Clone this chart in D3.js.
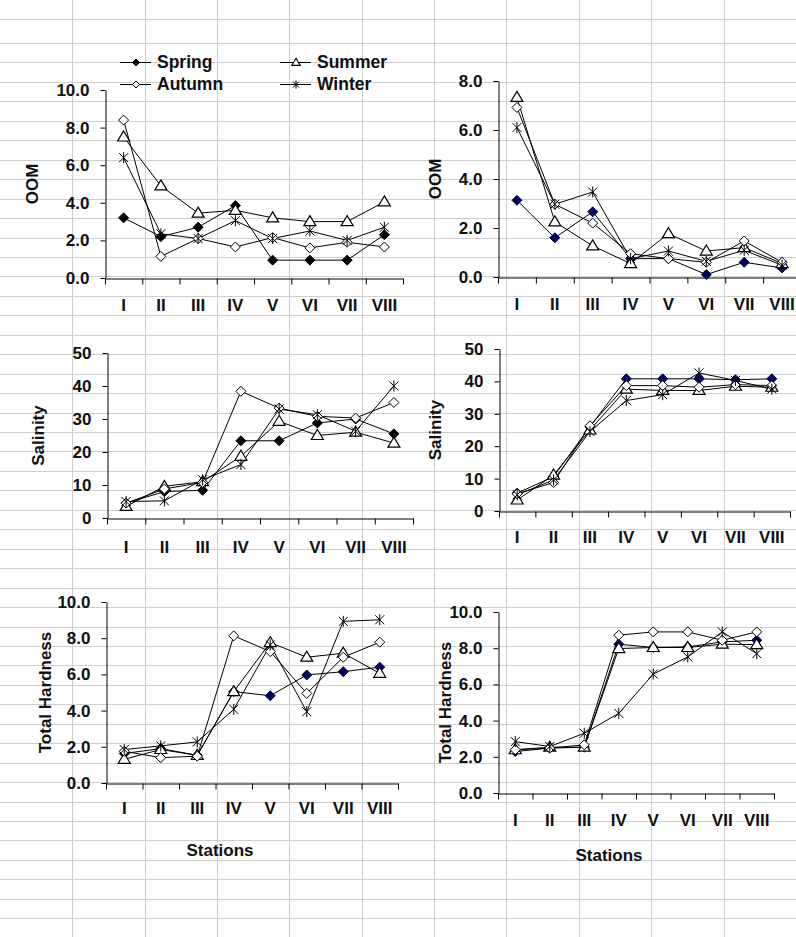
<!DOCTYPE html>
<html>
<head>
<meta charset="utf-8">
<script src="https://cdn.jsdelivr.net/npm/d3@7"></script>
<style>
  html, body { margin: 0; padding: 0; background: #fff; }
  svg { display: block; }
  text { font-family: "Liberation Sans", Arial, sans-serif; font-weight: bold; fill: #111; }
</style>
</head>
<body>
<svg id="chart" width="796" height="937"></svg>
<script>
// ---------------- DATA ----------------
const stations = ["I", "II", "III", "IV", "V", "VI", "VII", "VIII"];
const seasons = ["Spring", "Summer", "Autumn", "Winter"];

// Top-left: OOM
const oomA_spring = [3.2, 2.2, 2.7, 3.85, 0.95, 0.95, 0.95, 2.3];
const oomA_summer = [7.5, 4.9, 3.45, 3.6, 3.2, 3.0, 3.0, 4.05];
const oomA_autumn = [8.4, 1.15, 2.1, 1.65, 2.15, 1.6, 1.9, 1.65];
const oomA_winter = [6.4, 2.35, 2.1, 3.05, 2.1, 2.5, 2.0, 2.7];

// Top-right: OOM
const oomB_spring = [3.13, 1.6, 2.66, 0.75, 0.75, 0.1, 0.6, 0.37];
const oomB_summer = [7.33, 2.25, 1.27, 0.55, 1.77, 1.06, 1.2, 0.55];
const oomB_autumn = [6.92, 2.97, 2.2, 0.95, 0.75, 0.6, 1.47, 0.6];
const oomB_winter = [6.1, 2.97, 3.47, 0.75, 1.06, 0.64, 1.09, 0.48];

// Middle-left: Salinity
const salA_spring = [4.5, 8.0, 8.4, 23.4, 23.4, 28.8, 30.0, 25.5];
const salA_summer = [3.5, 9.6, 11.0, 18.7, 29.3, 25.0, 26.0, 22.7];
const salA_autumn = [4.5, 8.8, 10.8, 38.4, 33.3, 30.8, 30.3, 35.0];
const salA_winter = [5.0, 5.2, 11.6, 16.2, 33.0, 31.3, 26.3, 40.0];

// Middle-right: Salinity
const salB_spring = [5.5, 10.6, 26.0, 40.8, 40.8, 40.8, 40.5, 40.8];
const salB_summer = [3.4, 11.1, 25.0, 37.6, 37.2, 37.2, 38.5, 38.2];
const salB_autumn = [5.3, 8.8, 26.3, 38.7, 38.7, 38.2, 39.0, 38.7];
const salB_winter = [5.0, 9.6, 24.5, 34.1, 35.9, 42.6, 40.3, 37.6];

// Bottom-left: Total Hardness
const thA_spring = [1.63, 1.9, 1.53, 5.05, 4.82, 5.97, 6.15, 6.4];
const thA_summer = [1.31, 1.85, 1.53, 5.05, 7.76, 6.95, 7.17, 6.06];
const thA_autumn = [1.75, 1.4, 1.48, 8.13, 7.26, 4.95, 6.95, 7.78];
const thA_winter = [1.85, 2.05, 2.27, 4.07, 7.63, 3.94, 8.93, 9.02];

// Bottom-right: Total Hardness
const thB_spring = [2.29, 2.48, 2.53, 8.22, 8.04, 8.07, 8.35, 8.44];
const thB_summer = [2.39, 2.53, 2.53, 7.98, 8.04, 8.04, 8.22, 8.2];
const thB_autumn = [2.39, 2.48, 2.66, 8.72, 8.9, 8.9, 8.44, 8.9];
const thB_winter = [2.84, 2.57, 3.3, 4.4, 6.57, 7.52, 8.9, 7.7];

const yTitles = ["OOM", "OOM", "Salinity", "Salinity", "Total Hardness", "Total Hardness"];
const yMax = [10, 8, 50, 50, 10, 10];
const xTitle = "Stations";

// ---------------- LAYOUT ----------------
const panels = [
  { series: [oomA_spring, oomA_summer, oomA_autumn, oomA_winter], x0: 105, x1: 403, yTop: 90, yBot: 278, lab: 305, tx: 32, fmt: ".1f", springFill: "#000" },
  { series: [oomB_spring, oomB_summer, oomB_autumn, oomB_winter], x0: 498, x1: 801, yTop: 81, yBot: 277, lab: 304, tx: 435, fmt: ".1f", springFill: "#000055" },
  { series: [salA_spring, salA_summer, salA_autumn, salA_winter], x0: 107, x1: 413, yTop: 353, yBot: 518, lab: 547, tx: 38, fmt: "d", springFill: "#000" },
  { series: [salB_spring, salB_summer, salB_autumn, salB_winter], x0: 499, x1: 790, yTop: 349, yBot: 511, lab: 537, tx: 435, fmt: "d", springFill: "#000055" },
  { series: [thA_spring, thA_summer, thA_autumn, thA_winter], x0: 106, x1: 398, yTop: 602, yBot: 783, lab: 808, tx: 45, fmt: ".1f", springFill: "#000055", stations: [220, 850] },
  { series: [thB_spring, thB_summer, thB_autumn, thB_winter], x0: 498, x1: 774, yTop: 612, yBot: 793, lab: 820, tx: 445, fmt: ".1f", springFill: "#000055", stations: [609, 855] }
];

const svg = d3.select("#chart");

// ---------------- SPREADSHEET GRID ----------------
const grid = svg.append("g").attr("stroke", "#cfcfcf").attr("stroke-width", 1);
const vLines = d3.range(1, 12).map(i => Math.round(i * 72.35) + 0.5);
grid.selectAll("line.v").data(vLines).join("line")
  .attr("x1", d => d).attr("x2", d => d).attr("y1", 0).attr("y2", 937);
const hLines = [19.5].concat(d3.range(0, 47).map(k => Math.round(43 + k * 19.45) + 0.5)).filter(d => d < 937);
grid.selectAll("line.h").data(hLines).join("line")
  .attr("x1", 0).attr("x2", 796).attr("y1", d => d).attr("y2", d => d);

// ---------------- MARKERS ----------------
function marker(g, type, x, y, s, fill) {
  const k = s || 1;
  if (type === 0 || type === 2) {
    const r = 5 * k;
    g.append("path").attr("d", `M${x},${y - r}L${x + r},${y}L${x},${y + r}L${x - r},${y}Z`)
      .attr("fill", type === 0 ? fill : "#fff").attr("stroke", type === 0 ? fill : "#000").attr("stroke-width", 1);
  } else if (type === 1) {
    const w = 6 * k, h = 10 * k;
    g.append("path").attr("d", `M${x},${y - h * 0.6}L${x + w},${y + h * 0.4}L${x - w},${y + h * 0.4}Z`)
      .attr("fill", "#fff").attr("stroke", "#000").attr("stroke-width", 1.2);
  } else {
    const r = 4.5 * k;
    g.append("path").attr("d", `M${x - r},${y - r}L${x + r},${y + r}M${x - r},${y + r}L${x + r},${y - r}M${x},${y - r - 1}L${x},${y + r + 1}`)
      .attr("fill", "none").attr("stroke", "#000").attr("stroke-width", 1);
  }
}

// ---------------- PANELS ----------------
panels.forEach((p, pi) => {
  const g = svg.append("g");
  const x = d3.scaleBand().domain(stations).range([p.x0, p.x1]).padding(0);
  const xb = d3.scaleLinear().domain([0, stations.length]).range([p.x0, p.x1]);
  const y = d3.scaleLinear().domain([0, yMax[pi]]).range([p.yBot, p.yTop]);
  const step = yMax[pi] === 50 ? 10 : 2;

  // Y axis
  const ya = g.append("g").attr("transform", `translate(${p.x0 + 0.5},0)`)
    .call(d3.axisLeft(y).tickValues(d3.range(0, yMax[pi] + 0.001, step)).tickFormat(d3.format(p.fmt)).tickSize(5).tickSizeOuter(0).tickPadding(11));
  ya.select(".domain").attr("stroke", "#000");
  ya.selectAll(".tick line").attr("stroke", "#000");
  ya.selectAll("text").attr("font-size", 17).attr("font-family", "Liberation Sans, Arial, sans-serif").attr("font-weight", "bold").attr("fill", "#111");

  // X axis boundary ticks
  const xa = g.append("g").attr("transform", `translate(0,${p.yBot + 0.5})`)
    .call(d3.axisBottom(xb).tickValues(d3.range(0, stations.length + 1)).tickFormat("").tickSize(6).tickSizeOuter(0));
  xa.select(".domain").attr("stroke", "#000");
  xa.selectAll(".tick line").attr("stroke", "#000");

  // X category labels
  const xl = g.append("g").attr("transform", `translate(0,${p.lab})`)
    .call(d3.axisBottom(x).tickSize(0).tickPadding(0));
  xl.select(".domain").remove();
  xl.selectAll("text").attr("font-size", 17).attr("dy", "0.35em").attr("font-family", "Liberation Sans, Arial, sans-serif").attr("font-weight", "bold").attr("fill", "#111");

  // Y title
  g.append("text").attr("transform", `translate(${p.tx},${(p.yTop + p.yBot) / 2}) rotate(-90)`)
    .attr("text-anchor", "middle").attr("dy", "0.35em").attr("font-size", 17).text(yTitles[pi]);

  if (p.stations) {
    g.append("text").attr("x", p.stations[0]).attr("y", p.stations[1]).attr("text-anchor", "middle")
      .attr("dy", "0.35em").attr("font-size", 17).text(xTitle);
  }

  const cx = i => x(stations[i]) + x.bandwidth() / 2;
  const line = d3.line().x((d, i) => cx(i)).y(d => y(d));
  p.series.forEach((vals, si) => {
    g.append("path").attr("d", line(vals)).attr("fill", "none").attr("stroke", "#000").attr("stroke-width", 1);
  });
  p.series.forEach((vals, si) => {
    vals.forEach((v, i) => marker(g, si, cx(i), y(v), 1, p.springFill));
  });
});

// ---------------- LEGEND (top-left panel) ----------------
const legendPos = [[120, 62], [280, 62], [120, 84], [280, 84]];
const lg = svg.append("g");
seasons.forEach((s, i) => {
  const [lx, ly] = legendPos[i];
  lg.append("line").attr("x1", lx).attr("x2", lx + 31).attr("y1", ly + 0.5).attr("y2", ly + 0.5).attr("stroke", "#000");
  marker(lg, i, lx + 16, ly + 0.5, 0.7, "#000");
  lg.append("text").attr("x", lx + 37).attr("y", ly).attr("dy", "0.35em").attr("font-size", 17.5).text(s);
});
</script>
</body>
</html>
